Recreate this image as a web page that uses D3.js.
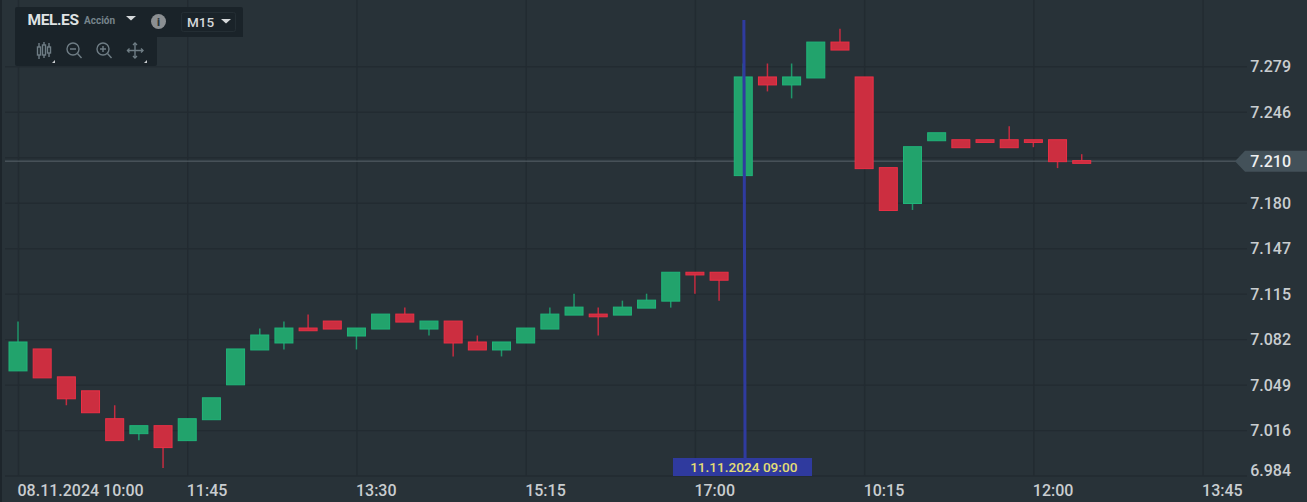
<!DOCTYPE html>
<html>
<head>
  <meta charset="utf-8">
  <title>MEL.ES M15</title>
<style>
html,body{ margin:0; padding:0; background:#283238; overflow:hidden; }
svg{ display:block; font-family:Roboto, sans-serif; }
.grid line{ stroke:#222b31; stroke-width:1.4; }
.grid path{ display:none; }
.axis path, .axis line{ display:none; }
.axis text{ fill:#c9cdd0; font-family:Roboto, sans-serif; font-size:16px; font-weight:500; }
.icon{ fill:none; stroke:#6f7d85; stroke-width:1.4; }
</style>
<script src="https://cdnjs.cloudflare.com/ajax/libs/d3/7.8.5/d3.min.js"></script>
</head>
<body>
<script>
var times = [
  "08.11 10:00","08.11 10:15","08.11 10:30","08.11 10:45","08.11 11:00","08.11 11:15","08.11 11:30",
  "08.11 11:45","08.11 12:00","08.11 12:15","08.11 12:30","08.11 12:45","08.11 13:00","08.11 13:15",
  "08.11 13:30","08.11 13:45","08.11 14:00","08.11 14:15","08.11 14:30","08.11 14:45","08.11 15:00",
  "08.11 15:15","08.11 15:30","08.11 15:45","08.11 16:00","08.11 16:15","08.11 16:30","08.11 16:45",
  "08.11 17:00","08.11 17:15","11.11 09:00","11.11 09:15","11.11 09:30","11.11 09:45","11.11 10:00",
  "11.11 10:15","11.11 10:30","11.11 10:45","11.11 11:00","11.11 11:15","11.11 11:30","11.11 11:45",
  "11.11 12:00","11.11 12:15","11.11 12:30","11.11 12:45","11.11 13:00","11.11 13:15","11.11 13:30",
  "11.11 13:45"
];

var opens  = [7.06,7.075,7.055,7.045,7.025,7.015,7.02,7.01,7.025,7.05,7.075,7.08,7.09,7.095,7.085,7.09,
              7.1,7.09,7.095,7.08,7.075,7.08,7.09,7.1,7.1,7.1,7.105,7.11,7.13,7.13,
              7.2,7.27,7.265,7.27,7.295,7.27,7.205,7.18,7.225,7.225,7.225,7.225,7.225,7.225,7.21];
var highs  = [7.095,7.075,7.055,7.045,7.035,7.02,7.02,7.025,7.04,7.075,7.09,7.095,7.1,7.095,7.09,7.1,
              7.105,7.095,7.095,7.085,7.08,7.09,7.105,7.115,7.105,7.11,7.115,7.13,7.13,7.13,
              7.28,7.28,7.28,7.295,7.305,7.27,7.205,7.22,7.23,7.225,7.225,7.235,7.225,7.225,7.215];
var lows   = [7.06,7.055,7.035,7.03,7.01,7.01,6.99,7.01,7.025,7.05,7.075,7.075,7.09,7.09,7.075,7.09,
              7.095,7.085,7.07,7.075,7.07,7.08,7.09,7.1,7.085,7.1,7.105,7.105,7.115,7.11,
              7.2,7.26,7.255,7.27,7.29,7.205,7.175,7.175,7.225,7.22,7.225,7.22,7.22,7.205,7.21];
var closes = [7.08,7.055,7.04,7.03,7.01,7.02,7.005,7.025,7.04,7.075,7.085,7.09,7.09,7.09,7.09,7.1,
              7.095,7.095,7.08,7.075,7.08,7.09,7.1,7.105,7.1,7.105,7.11,7.13,7.13,7.125,
              7.27,7.265,7.27,7.295,7.29,7.205,7.175,7.22,7.23,7.22,7.225,7.22,7.225,7.21,7.21];

var gridValues = [7.2780,7.2454,7.2128,7.1802,7.1476,7.1150,7.0824,7.0498,7.0172,6.9846];
var priceLabels = ["7.279","7.246","","7.180","7.147","7.115","7.082","7.049","7.016","6.984"];
var timeTicks = ["08.11 10:00","08.11 11:45","08.11 13:30","08.11 15:15","08.11 17:00","11.11 10:15","11.11 12:00","11.11 13:45"];
var timeLabels = ["08.11.2024 10:00","11:45","13:30","15:15","17:00","10:15","12:00","13:45"];

var lastPrice = 7.21;
var crossTime = "11.11 09:00";
var crossLabel = "11.11.2024 09:00";

var width = 1307;
var height = 502;
var green = "#22a36c", greenEdge = "#20b57a", greenWick = "#1f966a";
var red = "#cc2e40", redEdge = "#ec3046", redWick = "#c42c40";

var svg = d3.select("body").append("svg").attr("width", width).attr("height", height);

var x = d3.scalePoint().domain(times).range([18, 1202.6]);
var y = d3.scaleLinear().domain([6.984, 7.279]).range([476.4, 64.9]);

// darker strip on the left edge
svg.append("rect").attr("width", 2).attr("height", height).attr("fill", "#1d252b");

// grid
svg.append("g").attr("class", "grid")
  .attr("transform", "translate(5,0)")
  .call(d3.axisRight(y).tickValues(gridValues).tickSize(1242).tickFormat(""));

svg.append("g").attr("class", "grid")
  .attr("transform", "translate(0,476)")
  .call(d3.axisTop(x).tickValues(timeTicks).tickSize(476).tickFormat(""));

// axes labels
var yAxis = svg.append("g").attr("class", "axis")
  .attr("transform", "translate(1291,0)")
  .call(d3.axisLeft(y).tickValues(gridValues).tickSize(0).tickPadding(0)
    .tickFormat(function(d, i) { return priceLabels[i]; }));
yAxis.selectAll("text").attr("dy", "0.35em")
  .attr("y", function(d, i) { return i == gridValues.length - 1 ? -6 : 0; });

var xAxis = svg.append("g").attr("class", "axis")
  .attr("transform", "translate(-1,476)")
  .call(d3.axisBottom(x).tickValues(timeTicks).tickSize(0).tickPadding(0)
    .tickFormat(function(d, i) { return timeLabels[i]; }));
xAxis.selectAll("text").attr("text-anchor", "start").attr("y", 9).attr("dy", "0.71em");

// last price line, under the candles
svg.append("line")
  .attr("x1", 5).attr("x2", 1237)
  .attr("y1", y(lastPrice)).attr("y2", y(lastPrice))
  .attr("stroke", "#59646b").attr("stroke-width", 1);

// candles
var candles = opens.map(function(o, i) {
  return { time: times[i], open: o, high: highs[i], low: lows[i], close: closes[i] };
});

function isUp(d) { return d.close > d.open; }

var bars = svg.append("g").selectAll("g").data(candles).enter().append("g");

bars.append("line")
  .attr("x1", function(d) { return x(d.time); })
  .attr("x2", function(d) { return x(d.time); })
  .attr("y1", function(d) { return y(d.high); })
  .attr("y2", function(d) { return y(d.low); })
  .attr("stroke", function(d) { return isUp(d) ? greenWick : redWick; })
  .attr("stroke-width", 1.5);

bars.append("rect")
  .attr("x", function(d) { return x(d.time) - 9; })
  .attr("width", 18)
  .attr("y", function(d) { return y(Math.max(d.open, d.close)) - 0.5; })
  .attr("height", function(d) { return Math.max(Math.abs(y(d.open) - y(d.close)) + 1, 2.7); })
  .attr("fill", function(d) { return isUp(d) ? green : red; })
  .attr("stroke", function(d) { return isUp(d) ? greenEdge : redEdge; })
  .attr("stroke-width", 1);

// crosshair
svg.append("line")
  .attr("x1", x(crossTime) + 0.6).attr("x2", x(crossTime) + 1.8)
  .attr("y1", 20).attr("y2", 458)
  .attr("stroke", "#2f3b9f").attr("stroke-width", 3);

svg.append("rect")
  .attr("x", 673).attr("y", 458).attr("width", 139).attr("height", 18)
  .attr("fill", "#2f3a9e");
svg.append("text")
  .attr("x", x(crossTime) + 0.5).attr("y", 472)
  .attr("text-anchor", "middle")
  .attr("font-size", "13.6px").attr("font-weight", 500)
  .attr("fill", "#e3dd74")
  .text(crossLabel);

// last price tag
var tagY = y(lastPrice);
svg.append("path")
  .attr("d", "M1235," + tagY + "L1245," + (tagY - 10.5) + "H1307V" + (tagY + 10.5) + "H1245Z")
  .attr("fill", "#435159");
svg.append("text")
  .attr("x", 1291).attr("y", tagY).attr("dy", "0.35em")
  .attr("text-anchor", "end")
  .attr("font-size", "16px").attr("font-weight", 500)
  .attr("fill", "#eef0f1")
  .text(lastPrice.toFixed(3));

// top left panel
var panel = svg.append("g");
panel.append("path")
  .attr("d", "M17,7H241a2,2 0 0 1 2,2V37H157V64a2,2 0 0 1 -2,2H17a2,2 0 0 1 -2,-2V9a2,2 0 0 1 2,-2Z")
  .attr("fill", "#1a2329");

panel.append("text").attr("x", 27.5).attr("y", 25)
  .attr("font-size", "15.5px").attr("font-weight", 700).attr("letter-spacing", "-0.4px")
  .attr("fill", "#dfe2e3").text("MEL.ES");
panel.append("text").attr("x", 84).attr("y", 24)
  .attr("font-size", "10px").attr("font-weight", 700)
  .attr("fill", "#76848c").text("Acción");
panel.append("path").attr("d", "M126,16H136L131,20.5Z").attr("fill", "#d5d8da");

panel.append("circle").attr("cx", 158.5).attr("cy", 21.5).attr("r", 7.5).attr("fill", "#8b8f92");
panel.append("text").attr("x", 158.5).attr("y", 25.5)
  .attr("text-anchor", "middle").attr("font-size", "11px").attr("font-weight", 900)
  .attr("fill", "#2b3338").text("i");

panel.append("rect").attr("x", 181.5).attr("y", 12.5).attr("width", 54).attr("height", 19).attr("rx", 2)
  .attr("fill", "none").attr("stroke", "#242e34");
panel.append("text").attr("x", 187).attr("y", 27)
  .attr("font-size", "13.5px").attr("font-weight", 500)
  .attr("fill", "#d5d8da").text("M15");
panel.append("path").attr("d", "M221,19H231L226,23.5Z").attr("fill", "#d5d8da");

// candle icon
var ic = panel.append("g").attr("class", "icon");
ic.append("path").attr("d", "M39,43V59M44,42V58M49,43V57");
ic.append("rect").attr("x", 37.5).attr("y", 47).attr("width", 3).attr("height", 8).attr("fill", "#1a2329");
ic.append("rect").attr("x", 42.5).attr("y", 45).attr("width", 3).attr("height", 10).attr("fill", "#1a2329");
ic.append("rect").attr("x", 47.5).attr("y", 47).attr("width", 3).attr("height", 6).attr("fill", "#1a2329");

// zoom out, zoom in
ic.append("circle").attr("cx", 73).attr("cy", 49).attr("r", 6);
ic.append("path").attr("d", "M70,49H76M77.5,53.5L81.5,58");
ic.append("circle").attr("cx", 103).attr("cy", 49).attr("r", 6);
ic.append("path").attr("d", "M100,49H106M103,46V52M107.5,53.5L111.5,58");

// move
ic.append("path").attr("d", "M127.5,50.5H143M135,43V58");
ic.append("path").attr("d", "M133,45L135,43L137,45M133,56L135,58L137,56M129.5,48.5L127.5,50.5L129.5,52.5M141,48.5L143,50.5L141,52.5");

// little corner marks
panel.append("path").attr("d", "M52,63H55V60Z").attr("fill", "#c9cdd0");
panel.append("path").attr("d", "M144,63H147V60Z").attr("fill", "#c9cdd0");
</script>
</body>
</html>
